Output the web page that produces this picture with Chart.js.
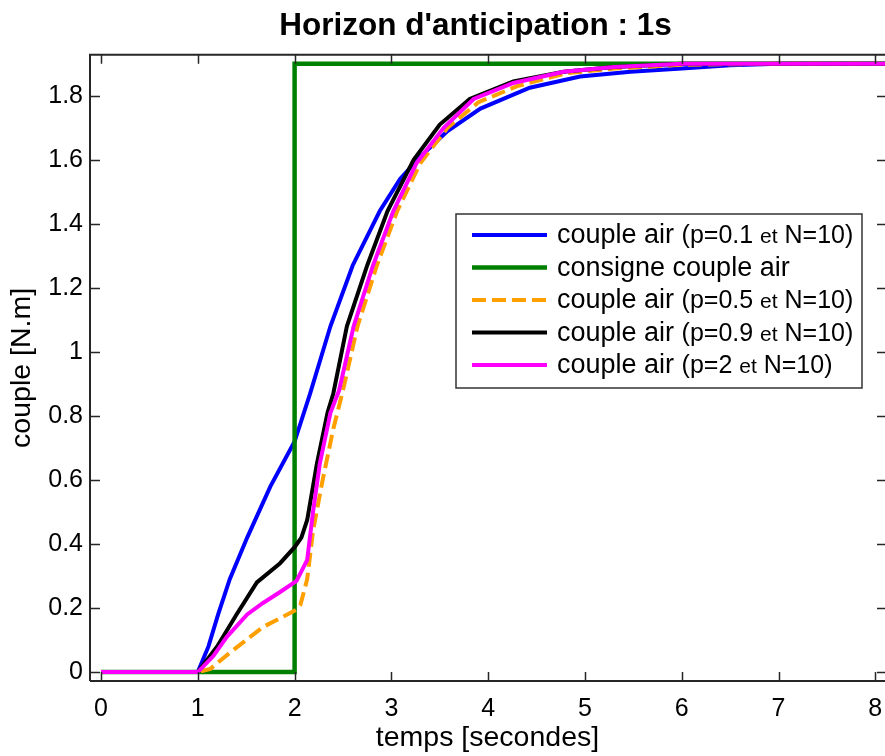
<!DOCTYPE html>
<html>
<head>
<meta charset="utf-8">
<title>Horizon d'anticipation : 1s</title>
<script src="https://cdn.jsdelivr.net/npm/chart.js"></script>
<style>
  html, body { margin: 0; padding: 0; background: #ffffff; }
</style>
</head>
<body>
<canvas id="myChart" width="885" height="756"></canvas>
<script>
// --- data ---
const titleText = "Horizon d'anticipation : 1s";
const labels = ['couple air (p=0.1 et N=10)', 'consigne couple air', 'couple air (p=0.5 et N=10)',
                'couple air (p=0.9 et N=10)', 'couple air (p=2 et N=10)'];

const xTicks = [0, 1, 2, 3, 4, 5, 6, 7, 8];
const yTicks = [0, 0.2, 0.4, 0.6, 0.8, 1, 1.2, 1.4, 1.6, 1.8];

const tBlue = [0, 1, 1.11, 1.21, 1.33, 1.51, 1.75, 2.0, 2.16, 2.37, 2.6, 2.88, 3.09, 3.3, 3.58, 3.92, 4.43, 4.95, 5.47, 6.0, 6.5, 7.0, 8.1];
const coupleBlue = [0, 0, 0.08, 0.18, 0.29, 0.42, 0.58, 0.72, 0.87, 1.08, 1.27, 1.44, 1.54, 1.61, 1.69, 1.76, 1.825, 1.86, 1.875, 1.885, 1.895, 1.9, 1.9];

const tConsigne = [0, 2, 2, 8.1];
const consigne = [0, 0, 1.9, 1.9];

const tOrange = [0, 1, 1.13, 1.33, 1.67, 2.02, 2.06, 2.13, 2.19, 2.29, 2.40, 2.50, 2.65, 2.85, 3.06, 3.30, 3.58, 3.9, 4.3, 4.8, 5.3, 6.0, 7.0, 8.1];
const coupleOrange = [0, 0, 0.01, 0.06, 0.14, 0.195, 0.21, 0.29, 0.44, 0.60, 0.76, 0.88, 1.08, 1.27, 1.44, 1.59, 1.70, 1.78, 1.83, 1.87, 1.885, 1.897, 1.9, 1.9];

const tBlack = [0, 1, 1.2, 1.4, 1.61, 1.85, 2.0, 2.07, 2.13, 2.23, 2.34, 2.4, 2.54, 2.75, 2.96, 3.23, 3.5, 3.81, 4.26, 4.78, 5.3, 6.0, 8.1];
const coupleBlack = [0, 0, 0.08, 0.18, 0.28, 0.34, 0.39, 0.42, 0.475, 0.65, 0.81, 0.87, 1.08, 1.27, 1.44, 1.60, 1.71, 1.79, 1.845, 1.875, 1.89, 1.9, 1.9];

const tMagenta = [0, 1, 1.16, 1.3, 1.51, 1.67, 1.85, 2.02, 2.13, 2.19, 2.26, 2.37, 2.46, 2.61, 2.81, 3.02, 3.26, 3.54, 3.85, 4.26, 4.78, 5.3, 6.0, 8.1];
const coupleMagenta = [0, 0, 0.05, 0.11, 0.18, 0.215, 0.25, 0.285, 0.35, 0.50, 0.65, 0.81, 0.88, 1.08, 1.27, 1.44, 1.59, 1.70, 1.79, 1.84, 1.875, 1.89, 1.9, 1.9];

const FONT = '"Liberation Sans", Arial, sans-serif';

function pts(xs, ys) {
    return xs.map((x, i) => ({ x: x, y: ys[i] }));
}

// matlab style box, inward ticks and the legend inside the axes
const framePlugin = {
    id: 'frame',
    afterLayout(chart) {
        // the title sits a bit left of the axes centre in the original
        if (chart.titleBlock) {
            chart.titleBlock.left -= 12;
            chart.titleBlock.right -= 12;
        }
    },
    afterDraw(chart) {
        const ctx = chart.ctx;
        const a = chart.chartArea;
        const sx = chart.scales.x, sy = chart.scales.y;
        ctx.save();
        ctx.strokeStyle = '#262626';
        ctx.lineWidth = 2;
        ctx.beginPath();
        ctx.moveTo(a.left, a.bottom);
        ctx.lineTo(a.left, a.top);
        ctx.lineTo(a.right + 3, a.top);
        ctx.moveTo(a.left, a.bottom);
        ctx.lineTo(a.right + 3, a.bottom);
        ctx.stroke();

        ctx.lineWidth = 1.5;
        ctx.beginPath();
        sx.ticks.forEach(t => {
            const px = Math.round(sx.getPixelForValue(t.value)) + 0.5;
            ctx.moveTo(px, a.bottom); ctx.lineTo(px, a.bottom - 9);
            ctx.moveTo(px, a.top); ctx.lineTo(px, a.top + 9);
        });
        sy.ticks.forEach(t => {
            const py = Math.round(sy.getPixelForValue(t.value)) + 0.5;
            ctx.moveTo(a.left, py); ctx.lineTo(a.left + 10, py);
            ctx.moveTo(a.right + 2, py); ctx.lineTo(a.right - 8, py);
        });
        ctx.stroke();

        // legend
        const lx = 456, ly = 214, lw = 406, lh = 174;
        ctx.fillStyle = '#ffffff';
        ctx.fillRect(lx, ly, lw, lh);
        ctx.strokeStyle = '#333333';
        ctx.lineWidth = 1.5;
        ctx.strokeRect(lx, ly, lw, lh);

        chart.data.datasets.forEach((ds, i) => {
            const rowY = 235 + i * 32.5;
            ctx.strokeStyle = ds.borderColor;
            ctx.lineWidth = ds.borderWidth;
            ctx.setLineDash(ds.borderDash || []);
            ctx.beginPath();
            ctx.moveTo(472, rowY);
            ctx.lineTo(547, rowY);
            ctx.stroke();
            ctx.setLineDash([]);

            ctx.fillStyle = '#000000';
            ctx.textBaseline = 'alphabetic';
            const base = rowY + 8;
            let x = 557;
            const cut = ds.label.indexOf(' (');
            const main = cut < 0 ? ds.label : ds.label.slice(0, cut);
            ctx.font = '27px ' + FONT;
            ctx.fillText(main, x, base);
            x += ctx.measureText(main + ' ').width;
            if (cut >= 0) {
                const rest = ds.label.slice(cut + 1).split(' et ');
                ctx.font = '25px ' + FONT;
                ctx.fillText(rest[0] + ' ', x, base);
                x += ctx.measureText(rest[0] + ' ').width;
                ctx.font = '21px ' + FONT;
                ctx.fillText('et', x, base);
                x += ctx.measureText('et').width;
                ctx.font = '25px ' + FONT;
                ctx.fillText(' ' + rest[1], x, base);
            }
        });
        ctx.restore();
    }
};

var ctx = document.getElementById('myChart').getContext('2d');
var myChart = new Chart(ctx, {
    type: 'line',
    data: {
        datasets: [
            { label: labels[0], data: pts(tBlue, coupleBlue), borderColor: '#0000ff', borderWidth: 4, order: 5 },
            { label: labels[1], data: pts(tConsigne, consigne), borderColor: '#008000', borderWidth: 4.5, order: 4 },
            { label: labels[2], data: pts(tOrange, coupleOrange), borderColor: '#ff9f00', borderWidth: 4, borderDash: [14, 6], order: 3 },
            { label: labels[3], data: pts(tBlack, coupleBlack), borderColor: '#000000', borderWidth: 4, order: 2 },
            { label: labels[4], data: pts(tMagenta, coupleMagenta), borderColor: '#ff00ff', borderWidth: 4, order: 1 }
        ]
    },
    options: {
        responsive: false,
        animation: false,
        layout: { padding: 0 },
        elements: { point: { radius: 0 }, line: { tension: 0, fill: false } },
        plugins: {
            legend: { display: false },
            tooltip: { enabled: false },
            title: {
                display: true,
                text: titleText,
                fullSize: false,
                color: '#000000',
                font: { family: FONT, size: 31.5, weight: 'bold' },
                padding: { top: 7, bottom: 10 }
            }
        },
        scales: {
            x: {
                type: 'linear',
                min: -0.114,
                max: 8.1,
                afterBuildTicks: s => { s.ticks = xTicks.map(v => ({ value: v })); },
                afterFit: s => { s.height = 75; s.paddingLeft = 0; s.paddingRight = 0; },
                grid: { display: false, drawTicks: false },
                border: { display: false },
                ticks: { color: '#000000', font: { family: FONT, size: 25 }, padding: 13, maxRotation: 0, autoSkip: false,
                         callback: v => String(v) },
                title: { display: true, text: 'temps [secondes]', color: '#000000',
                         font: { family: FONT, size: 28.5 }, padding: { top: 0, bottom: 1 } }
            },
            y: {
                type: 'linear',
                min: -0.028,
                max: 1.928,
                afterBuildTicks: s => { s.ticks = yTicks.map(v => ({ value: v })); },
                afterFit: s => { s.width = 90; s.paddingTop = 0; s.paddingBottom = 0; },
                grid: { display: false, drawTicks: false },
                border: { display: false },
                ticks: { color: '#000000', font: { family: FONT, size: 25 }, padding: 7, autoSkip: false,
                         callback: v => String(Number(v.toFixed(1))) },
                title: { display: true, text: 'couple [N.m]', color: '#000000',
                         font: { family: FONT, size: 28.5 }, padding: { top: 5, bottom: 0 } }
            }
        }
    },
    plugins: [framePlugin]
});
</script>
</body>
</html>
